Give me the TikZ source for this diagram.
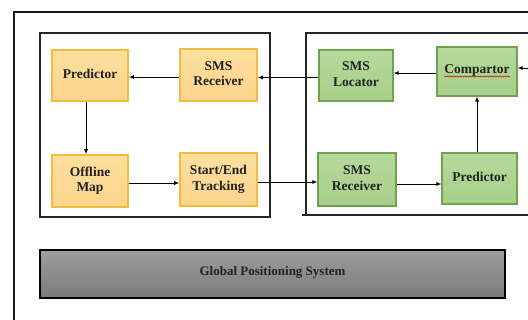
\documentclass[tikz,border=0pt]{standalone}
\usepackage{fontspec}
\setmainfont{Liberation Serif}
\usetikzlibrary{arrows.meta,decorations.pathmorphing}
\definecolor{orfill}{HTML}{FCD48C}
\definecolor{orfilltop}{HTML}{FDDF9E}
\definecolor{ordraw}{HTML}{F4BC3C}
\definecolor{grfill}{HTML}{A6CF8A}
\definecolor{grfilltop}{HTML}{B6D99C}
\definecolor{grdraw}{HTML}{6FA24E}
\definecolor{txt}{HTML}{222222}
\newcommand{\bt}[2][4pt]{\raisebox{#1}{\begin{tabular}{@{}c@{}}#2\end{tabular}}}
\tikzset{
  obox/.style={draw=ordraw, line width=1.6pt, top color=orfilltop, bottom color=orfill, rectangle, inner sep=0pt, font=\fontsize{13.5}{16}\selectfont\bfseries, text=txt},
  gbox/.style={draw=grdraw, line width=1.2pt, top color=grfilltop, bottom color=grfill, rectangle, inner sep=0pt, font=\fontsize{13.5}{16}\selectfont\bfseries, text=txt},
  conn/.style={-{Latex[length=5pt,width=4pt]}, line width=0.9pt, black},
  frame/.style={line width=1.1pt, black!85}
}
\renewcommand{\arraystretch}{0.95}
\begin{document}
\begin{tikzpicture}[x=1pt,y=-1pt]
\useasboundingbox (0,0) rectangle (528,320);
\begin{scope}
\clip (0,0) rectangle (528,320);
% outer frame
\draw[line width=1.4pt, black!90] (14,330) -- (14,12) -- (540,12);
% inner frames
\draw[frame] (40,33) rectangle (270,217);
\draw[frame] (540,33) -- (306,33) -- (306,215);
\draw[frame] (302,215) -- (540,215);
\end{scope}
% orange boxes
\node[obox, minimum width=76pt, minimum height=51pt] (pred) at (90,75.5) {\bt[5pt]{Predictor}};
\node[obox, minimum width=77pt, minimum height=52pt] (smsr) at (218.5,75) {\bt{SMS\\Receiver}};
\node[obox, minimum width=76pt, minimum height=52pt] (map) at (90,181) {\bt{Offline\\Map}};
\node[obox, minimum width=77pt, minimum height=53pt] (track) at (218.5,179.5) {\bt{Start/End\\Tracking}};
% green boxes
\node[gbox, minimum width=74pt, minimum height=51pt] (loc) at (356,75.5) {\bt{SMS\\Locator}};
\node[gbox, minimum width=80pt, minimum height=49pt] (comp) at (477,71.5) {\bt[6pt]{Compartor}};
\node[gbox, minimum width=78pt, minimum height=53pt] (grecv) at (357,179.5) {\bt{SMS\\Receiver}};
\node[gbox, minimum width=75pt, minimum height=51pt] (gpred) at (479.5,178.5) {\bt[5pt]{Predictor}};
% spell-check underline
\draw[red!80!black, line width=0.5pt, decorate, decoration={snake, amplitude=0.5pt, segment length=2.5pt}] (444,76.5) -- (510,76.5);
% GPS bar
\node[draw=black, line width=1.8pt, top color=black!38, bottom color=black!52, rectangle, minimum width=465pt, minimum height=48pt, font=\fontsize{13}{15}\selectfont\bfseries, text=txt] (gps) at (272.5,274) {\raisebox{6pt}{Global Positioning System}};
% connectors
\coordinate (ein) at (528,68);
\draw[conn] (ein) -- (comp.east |- ein);
\draw[conn] (comp.west |- 0,73) -- (loc.east |- 0,73);
\draw[conn] (loc.west |- 0,77.5) -- (smsr.east |- 0,77.5);
\draw[conn] (smsr.west |- 0,77) -- (pred.east |- 0,77);
\draw[conn] (pred.south -| 86,0) -- (map.north -| 86,0);
\draw[conn] (map.east |- 0,183) -- (track.west |- 0,183);
\draw[conn] (track.east |- 0,182) -- (grecv.west |- 0,182);
\draw[conn] (grecv.east |- 0,184) -- (gpred.west |- 0,184);
\draw[conn] (gpred.north -| 477,0) -- (comp.south -| 477,0);
\end{tikzpicture}
\end{document}
